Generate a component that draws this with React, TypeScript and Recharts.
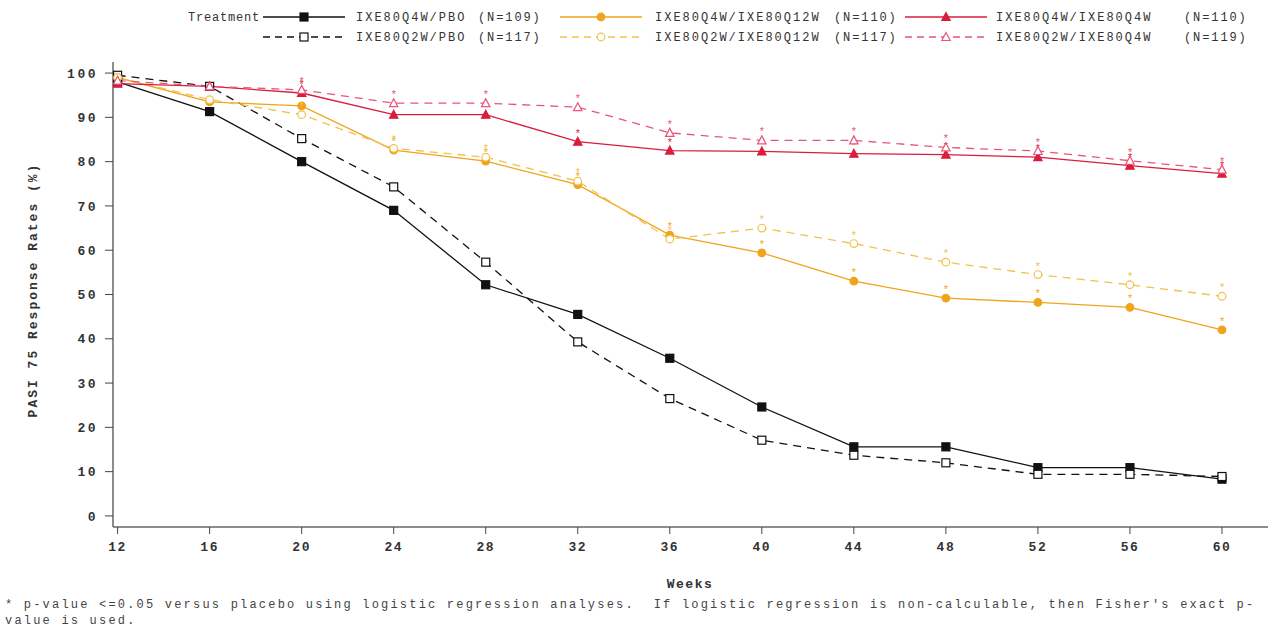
import React from 'react';
import { LineChart, Line, XAxis, YAxis } from 'recharts';

// weeks of the randomized withdrawal period
const weeks = [12, 16, 20, 24, 28, 32, 36, 40, 44, 48, 52, 56, 60];

// PASI 75 response rates (%) per arm
const q4wPbo = [98, 91.3, 80, 69, 52.2, 45.5, 35.6, 24.6, 15.6, 15.6, 10.9, 10.9, 8.3];
const q2wPbo = [99.5, 97, 85.2, 74.3, 57.3, 39.3, 26.5, 17.1, 13.7, 12, 9.4, 9.4, 8.9];
const q4wQ12w = [99, 93.5, 92.6, 82.6, 80.1, 74.8, 63.4, 59.4, 53, 49.2, 48.2, 47.1, 42];
const q2wQ12w = [99, 94, 90.6, 83, 81, 75.6, 62.5, 65, 61.5, 57.3, 54.5, 52.2, 49.6];
const q4wQ4w = [97.6, 97, 95.5, 90.6, 90.6, 84.5, 82.5, 82.3, 81.8, 81.6, 81, 79.1, 77.3];
const q2wQ4w = [98.3, 97, 96.2, 93.2, 93.2, 92.3, 86.5, 84.8, 84.8, 83.2, 82.4, 80.2, 78.2];

// p<=0.05 versus placebo flags
const sigQ12w = [0, 0, 1, 1, 1, 1, 1, 1, 1, 1, 1, 1, 1];
const sigQ4w = [0, 0, 1, 1, 1, 1, 1, 1, 1, 1, 1, 1, 1];

const yTicks = [0, 10, 20, 30, 40, 50, 60, 70, 80, 90, 100];

const BLACK = '#111111';
const ORANGE = '#EEA51C';
const ORANGE_LT = '#F1C14C';
const RED = '#DA1C3D';
const RED_LT = '#E8557A';

const MONO = '"Liberation Mono", "DejaVu Sans Mono", monospace';

const data = weeks.map((w, i) => ({
  week: w,
  q4wPbo: q4wPbo[i],
  q2wPbo: q2wPbo[i],
  q4wQ12w: q4wQ12w[i],
  q2wQ12w: q2wQ12w[i],
  q4wQ4w: q4wQ4w[i],
  q2wQ4w: q2wQ4w[i],
}));

type Shape = 'square' | 'circle' | 'triangle';

const Marker = ({ x, y, shape, color, filled }: { x: number; y: number; shape: Shape; color: string; filled: boolean }) => {
  const fill = filled ? color : '#ffffff';
  if (shape === 'square') {
    return <rect x={x - 4} y={y - 4} width={8} height={8} fill={fill} stroke={color} strokeWidth={1.2} />;
  }
  if (shape === 'circle') {
    return <circle cx={x} cy={y} r={3.8} fill={fill} stroke={color} strokeWidth={1.2} />;
  }
  return (
    <polygon
      points={`${x},${y - 4.5} ${x + 4.2},${y + 3.5} ${x - 4.2},${y + 3.5}`}
      fill={fill}
      stroke={color}
      strokeWidth={1.2}
    />
  );
};

const makeDot = (shape: Shape, color: string, filled: boolean, sig?: number[]) => (props: any) => {
  const { cx, cy, index } = props;
  if (cx == null || cy == null) return <g key={`e-${index}`} />;
  return (
    <g key={`d-${index}`}>
      <Marker x={cx} y={cy} shape={shape} color={color} filled={filled} />
      {sig && sig[index] ? (
        <text x={cx} y={cy - 5} textAnchor="middle" fontSize={11} fontFamily={MONO} fill={color}>
          *
        </text>
      ) : null}
    </g>
  );
};

const legendItems = [
  { row: 0, lineX: 263, textX: 356, name: 'IXE80Q4W/PBO', n: '(N=109)', nX: 478, color: BLACK, dash: undefined, shape: 'square' as Shape, filled: true },
  { row: 1, lineX: 263, textX: 356, name: 'IXE80Q2W/PBO', n: '(N=117)', nX: 478, color: BLACK, dash: '7 5', shape: 'square' as Shape, filled: false },
  { row: 0, lineX: 560, textX: 655, name: 'IXE80Q4W/IXE80Q12W', n: '(N=110)', nX: 834, color: ORANGE, dash: undefined, shape: 'circle' as Shape, filled: true },
  { row: 1, lineX: 560, textX: 655, name: 'IXE80Q2W/IXE80Q12W', n: '(N=117)', nX: 834, color: ORANGE_LT, dash: '7 5', shape: 'circle' as Shape, filled: false },
  { row: 0, lineX: 905, textX: 996, name: 'IXE80Q4W/IXE80Q4W', n: '(N=110)', nX: 1184, color: RED, dash: undefined, shape: 'triangle' as Shape, filled: true },
  { row: 1, lineX: 905, textX: 996, name: 'IXE80Q2W/IXE80Q4W', n: '(N=119)', nX: 1184, color: RED_LT, dash: '7 5', shape: 'triangle' as Shape, filled: false },
];

const TopLegend = () => (
  <g fontFamily={MONO} fontSize={12} fill="#333">
    <text x={188} y={21} letterSpacing={0.8}>Treatment</text>
    {legendItems.map((it) => {
      const y = 17 + it.row * 20;
      return (
        <g key={it.name}>
          <line x1={it.lineX} x2={it.lineX + 82} y1={y} y2={y} stroke={it.color} strokeWidth={1.4} strokeDasharray={it.dash} />
          <Marker x={it.lineX + 41} y={y} shape={it.shape} color={it.color} filled={it.filled} />
          <text x={it.textX} y={y + 4} letterSpacing={2}>{it.name}</text>
          <text x={it.nX} y={y + 4} letterSpacing={1.9}>{it.n}</text>
        </g>
      );
    })}
  </g>
);

export default function App() {
  return (
    <div style={{ position: 'absolute', left: 0, top: 0, width: 1271, height: 639, background: '#fff' }}>
      <LineChart width={1271} height={639} data={data} margin={{ top: 62, right: 3, bottom: 82, left: 53 }}>
        <XAxis
          type="number"
          dataKey="week"
          domain={[11.8, 62]}
          ticks={weeks}
          allowDataOverflow
          height={30}
          axisLine={{ stroke: '#666', strokeWidth: 1.5 }}
          tickLine={{ stroke: '#444' }}
          tickSize={7}
          tickMargin={8}
          tick={{ fill: '#333', fontFamily: MONO, fontSize: 13, fontWeight: 700, letterSpacing: 1.5 }}
          label={{
            content: () => (
              <text x={690} y={588} textAnchor="middle" fontFamily={MONO} fontSize={13} fontWeight={700} fill="#333" letterSpacing={1.5}>
                Weeks
              </text>
            ),
          }}
        />
        <YAxis
          type="number"
          domain={[-2.5, 102.5]}
          ticks={yTicks}
          allowDataOverflow
          width={60}
          axisLine={{ stroke: '#666', strokeWidth: 1.5 }}
          tickLine={{ stroke: '#444' }}
          tickSize={8}
          tickMargin={7}
          tick={{ fill: '#333', fontFamily: MONO, fontSize: 13, fontWeight: 700, letterSpacing: 2.5 }}
          label={{
            content: () => (
              <text
                x={37}
                y={290}
                transform="rotate(-90 37 290)"
                textAnchor="middle"
                fontFamily={MONO}
                fontSize={13}
                fontWeight={700}
                fill="#333"
                letterSpacing={2}
              >
                PASI 75 Response Rates (%)
              </text>
            ),
          }}
        />
        <Line dataKey="q4wPbo" stroke={BLACK} strokeWidth={1.3} dot={makeDot('square', BLACK, true)} isAnimationActive={false} />
        <Line dataKey="q2wPbo" stroke={BLACK} strokeWidth={1.3} strokeDasharray="8 6" dot={makeDot('square', BLACK, false)} isAnimationActive={false} />
        <Line dataKey="q4wQ12w" stroke={ORANGE} strokeWidth={1.3} dot={makeDot('circle', ORANGE, true, sigQ12w)} isAnimationActive={false} />
        <Line dataKey="q2wQ12w" stroke={ORANGE_LT} strokeWidth={1.3} strokeDasharray="8 6" dot={makeDot('circle', ORANGE_LT, false, sigQ12w)} isAnimationActive={false} />
        <Line dataKey="q4wQ4w" stroke={RED} strokeWidth={1.3} dot={makeDot('triangle', RED, true, sigQ4w)} isAnimationActive={false} />
        <Line dataKey="q2wQ4w" stroke={RED_LT} strokeWidth={1.3} strokeDasharray="8 6" dot={makeDot('triangle', RED_LT, false, sigQ4w)} isAnimationActive={false} />
        <TopLegend />
      </LineChart>
      <div
        style={{
          position: 'absolute',
          left: 5,
          top: 597,
          fontFamily: MONO,
          fontSize: 12,
          letterSpacing: 2.2,
          lineHeight: '16px',
          color: '#444',
          whiteSpace: 'pre',
        }}
      >
        {"* p-value <=0.05 versus placebo using logistic regression analyses.  If logistic regression is non-calculable, then Fisher's exact p-"}
        {'\n'}
        {'value is used.'}
      </div>
    </div>
  );
}
